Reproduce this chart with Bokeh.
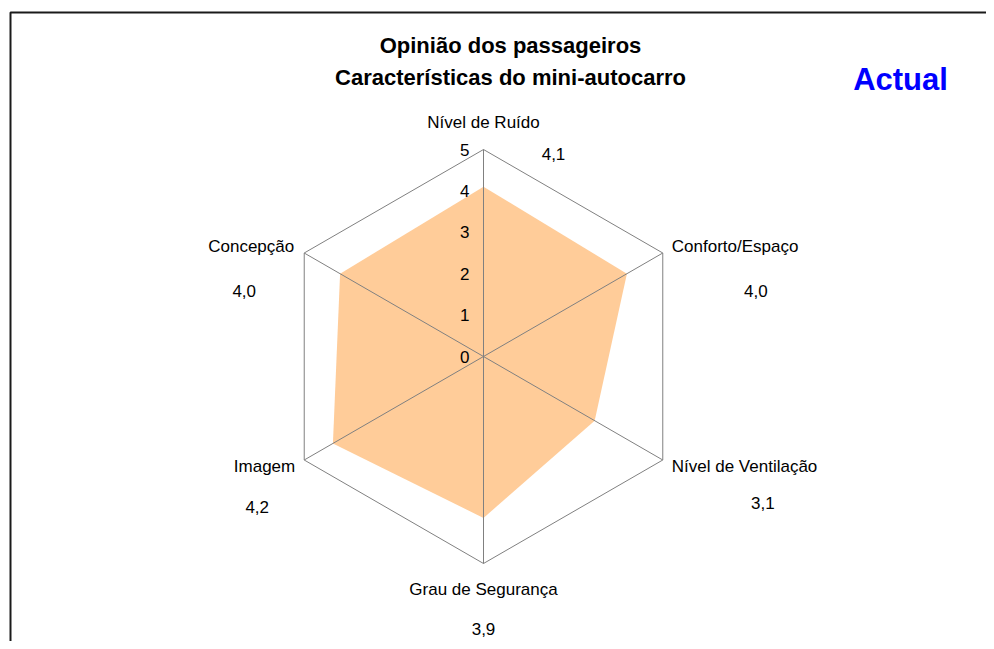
import math
from bokeh.plotting import figure
from bokeh.models import Range1d
from bokeh.core.properties import value
from bokeh.embed import file_html
from bokeh.resources import INLINE

# ---- data ----
categories = ["Nível de Ruído", "Conforto/Espaço", "Nível de Ventilação",
              "Grau de Segurança", "Imagem", "Concepção"]
scores = [4.1, 4.0, 3.1, 3.9, 4.2, 4.0]
score_labels = ["4,1", "4,0", "3,1", "3,9", "4,2", "4,0"]
ticks = [0, 1, 2, 3, 4, 5]
tick_labels = ["0", "1", "2", "3", "4", "5"]
title_lines = ["Opinião dos passageiros", "Características do mini-autocarro"]
badge = "Actual"

# ---- layout (picture pixels -> data units) ----
W, H = 986, 641
CX, CY = 483, 356          # position of the radar centre in the picture
RMAX = 5
PX_PER_UNIT = 207 / RMAX
ORIGIN = 0                 # picture position of the canvas corner

def dx(px):
    return (px - CX) / PX_PER_UNIT

def dy(py):
    return (CY - py) / PX_PER_UNIT

FONT = "Liberation Sans"

p = figure(width=W, height=H, output_backend="svg", toolbar_location=None,
           x_range=Range1d(dx(ORIGIN), dx(ORIGIN + W)),
           y_range=Range1d(dy(ORIGIN + H), dy(ORIGIN)),
           min_border=0, min_border_left=0, min_border_right=0,
           min_border_top=0, min_border_bottom=0)
p.axis.visible = False
p.grid.visible = False
p.outline_line_color = None
p.background_fill_color = "white"
p.border_fill_color = "white"

n = len(categories)
angles = [2 * math.pi * i / n for i in range(n)]

# filled series
xs = [s * math.sin(a) for s, a in zip(scores, angles)]
ys = [s * math.cos(a) for s, a in zip(scores, angles)]
p.patch(xs, ys, fill_color="#FFCC99", line_color=None)

# outer hexagon + spokes
ox = [RMAX * math.sin(a) for a in angles]
oy = [RMAX * math.cos(a) for a in angles]
p.patch(ox, oy, fill_color=None, line_color="#808080", line_width=1)
p.segment(x0=[0] * n, y0=[0] * n, x1=ox, y1=oy, line_color="#808080", line_width=1)

# value-axis tick labels along the top spoke
p.text(x=[0] * len(ticks), y=ticks, text=tick_labels, x_offset=-14,
       text_align="right", text_baseline="middle", text_font=value(FONT),
       text_font_size="17px", text_color="black")

# category labels and value labels (pixel offsets from outer vertex)
cat_off = [(0, -27, "center"), (9, -7, "left"), (9, 6, "left"),
           (0, 26, "center"), (-9, 6, "right"), (-10, -7, "right")]
val_off = [(70, 4), (93, 38), (100, 43), (0, 65), (-47, 47), (-60, 38)]

for i in range(n):
    ox_i, oy_i, al = cat_off[i]
    p.text(x=[ox[i]], y=[oy[i]], text=[categories[i]], x_offset=ox_i, y_offset=oy_i,
           text_align=al, text_baseline="middle", text_font=value(FONT),
           text_font_size="17px", text_color="black")
    vx, vy = val_off[i]
    p.text(x=[ox[i]], y=[oy[i]], text=[score_labels[i]], x_offset=vx, y_offset=vy,
           text_align="center", text_baseline="middle", text_font=value(FONT),
           text_font_size="17px", text_color="black")

# title
p.text(x=[dx(510), dx(510)], y=[dy(45), dy(77)], text=title_lines,
       text_align="center", text_baseline="middle", text_font=value(FONT),
       text_font_size="22px", text_font_style="bold", text_color="black")

# badge
p.text(x=[dx(900)], y=[dy(79)], text=[badge], text_align="center",
       text_baseline="middle", text_font=value(FONT), text_font_size="31px",
       text_font_style="bold", text_color="#0000FF")

# chart-area border (top and left edges visible)
p.line(x=[dx(10), dx(10), dx(ORIGIN + W)], y=[dy(ORIGIN + H), dy(12), dy(12)],
       line_color="#1a1a1a", line_width=2)

open("out.html", "w").write(file_html(p, INLINE))
